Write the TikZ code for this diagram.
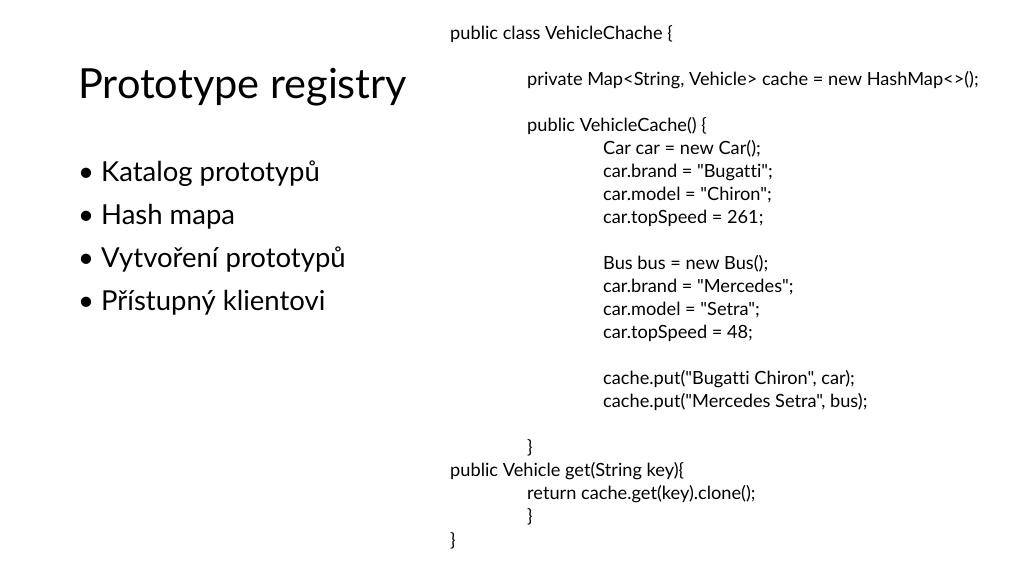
\documentclass[tikz,border=0pt]{standalone}
\usepackage{fontspec}
\setmainfont[Ligatures={NoCommon},Mapping=]{Lato}
\newcommand{\qt}{\symbol{34}}
\tikzset{code/.style={anchor=west,inner sep=0pt,yshift=-2pt,font=\fontsize{18.2}{20}\selectfont},
  item/.style={anchor=west,inner sep=0pt,yshift=-2pt,font=\fontsize{27.5}{30}\selectfont}}
\begin{document}
\begin{tikzpicture}[x=1pt,y=-1pt]
\useasboundingbox (0,0) rectangle (1024,576);
% title and bullets
\node[anchor=west,inner sep=0pt,yshift=-2pt,font=\fontsize{41.5}{46}\selectfont] (title) at (78,85) {Prototype registry};
\node[item] (b1) at (78,172) {\textbullet\ Katalog prototypů};
\node[item] (b2) at (78,215) {\textbullet\ Hash mapa};
\node[item] (b3) at (78,258) {\textbullet\ Vytvoření prototypů};
\node[item] (b4) at (78,301) {\textbullet\ Přístupný klientovi};
% code
\node[code] (c1) at (450,32) {public class VehicleChache \{};
\node[code] (c2) at (527,78) {private Map<String, Vehicle> cache = new HashMap<>();};
\node[code] (c3) at (527,124) {public VehicleCache() \{};
\node[code] (c4) at (603,147) {Car car = new Car();};
\node[code] (c5) at (603,170) {car.brand = \qt Bugatti\qt;};
\node[code] (c6) at (603,193) {car.model = \qt Chiron\qt;};
\node[code] (c7) at (603,216) {car.topSpeed = 261;};
\node[code] (c8) at (603,262) {Bus bus = new Bus();};
\node[code] (c9) at (603,285) {car.brand = \qt Mercedes\qt;};
\node[code] (c10) at (603,308) {car.model = \qt Setra\qt;};
\node[code] (c11) at (603,331) {car.topSpeed = 48;};
\node[code] (c12) at (603,377) {cache.put(\qt Bugatti Chiron\qt, car);};
\node[code] (c13) at (603,400) {cache.put(\qt Mercedes Setra\qt, bus);};
\node[code] (c14) at (527,446) {\}};
\node[code] (c15) at (450,469) {public Vehicle get(String key)\{};
\node[code] (c16) at (527,492) {return cache.get(key).clone();};
\node[code] (c17) at (527,515) {\}};
\node[code] (c18) at (450,539) {\}};
\end{tikzpicture}
\end{document}
